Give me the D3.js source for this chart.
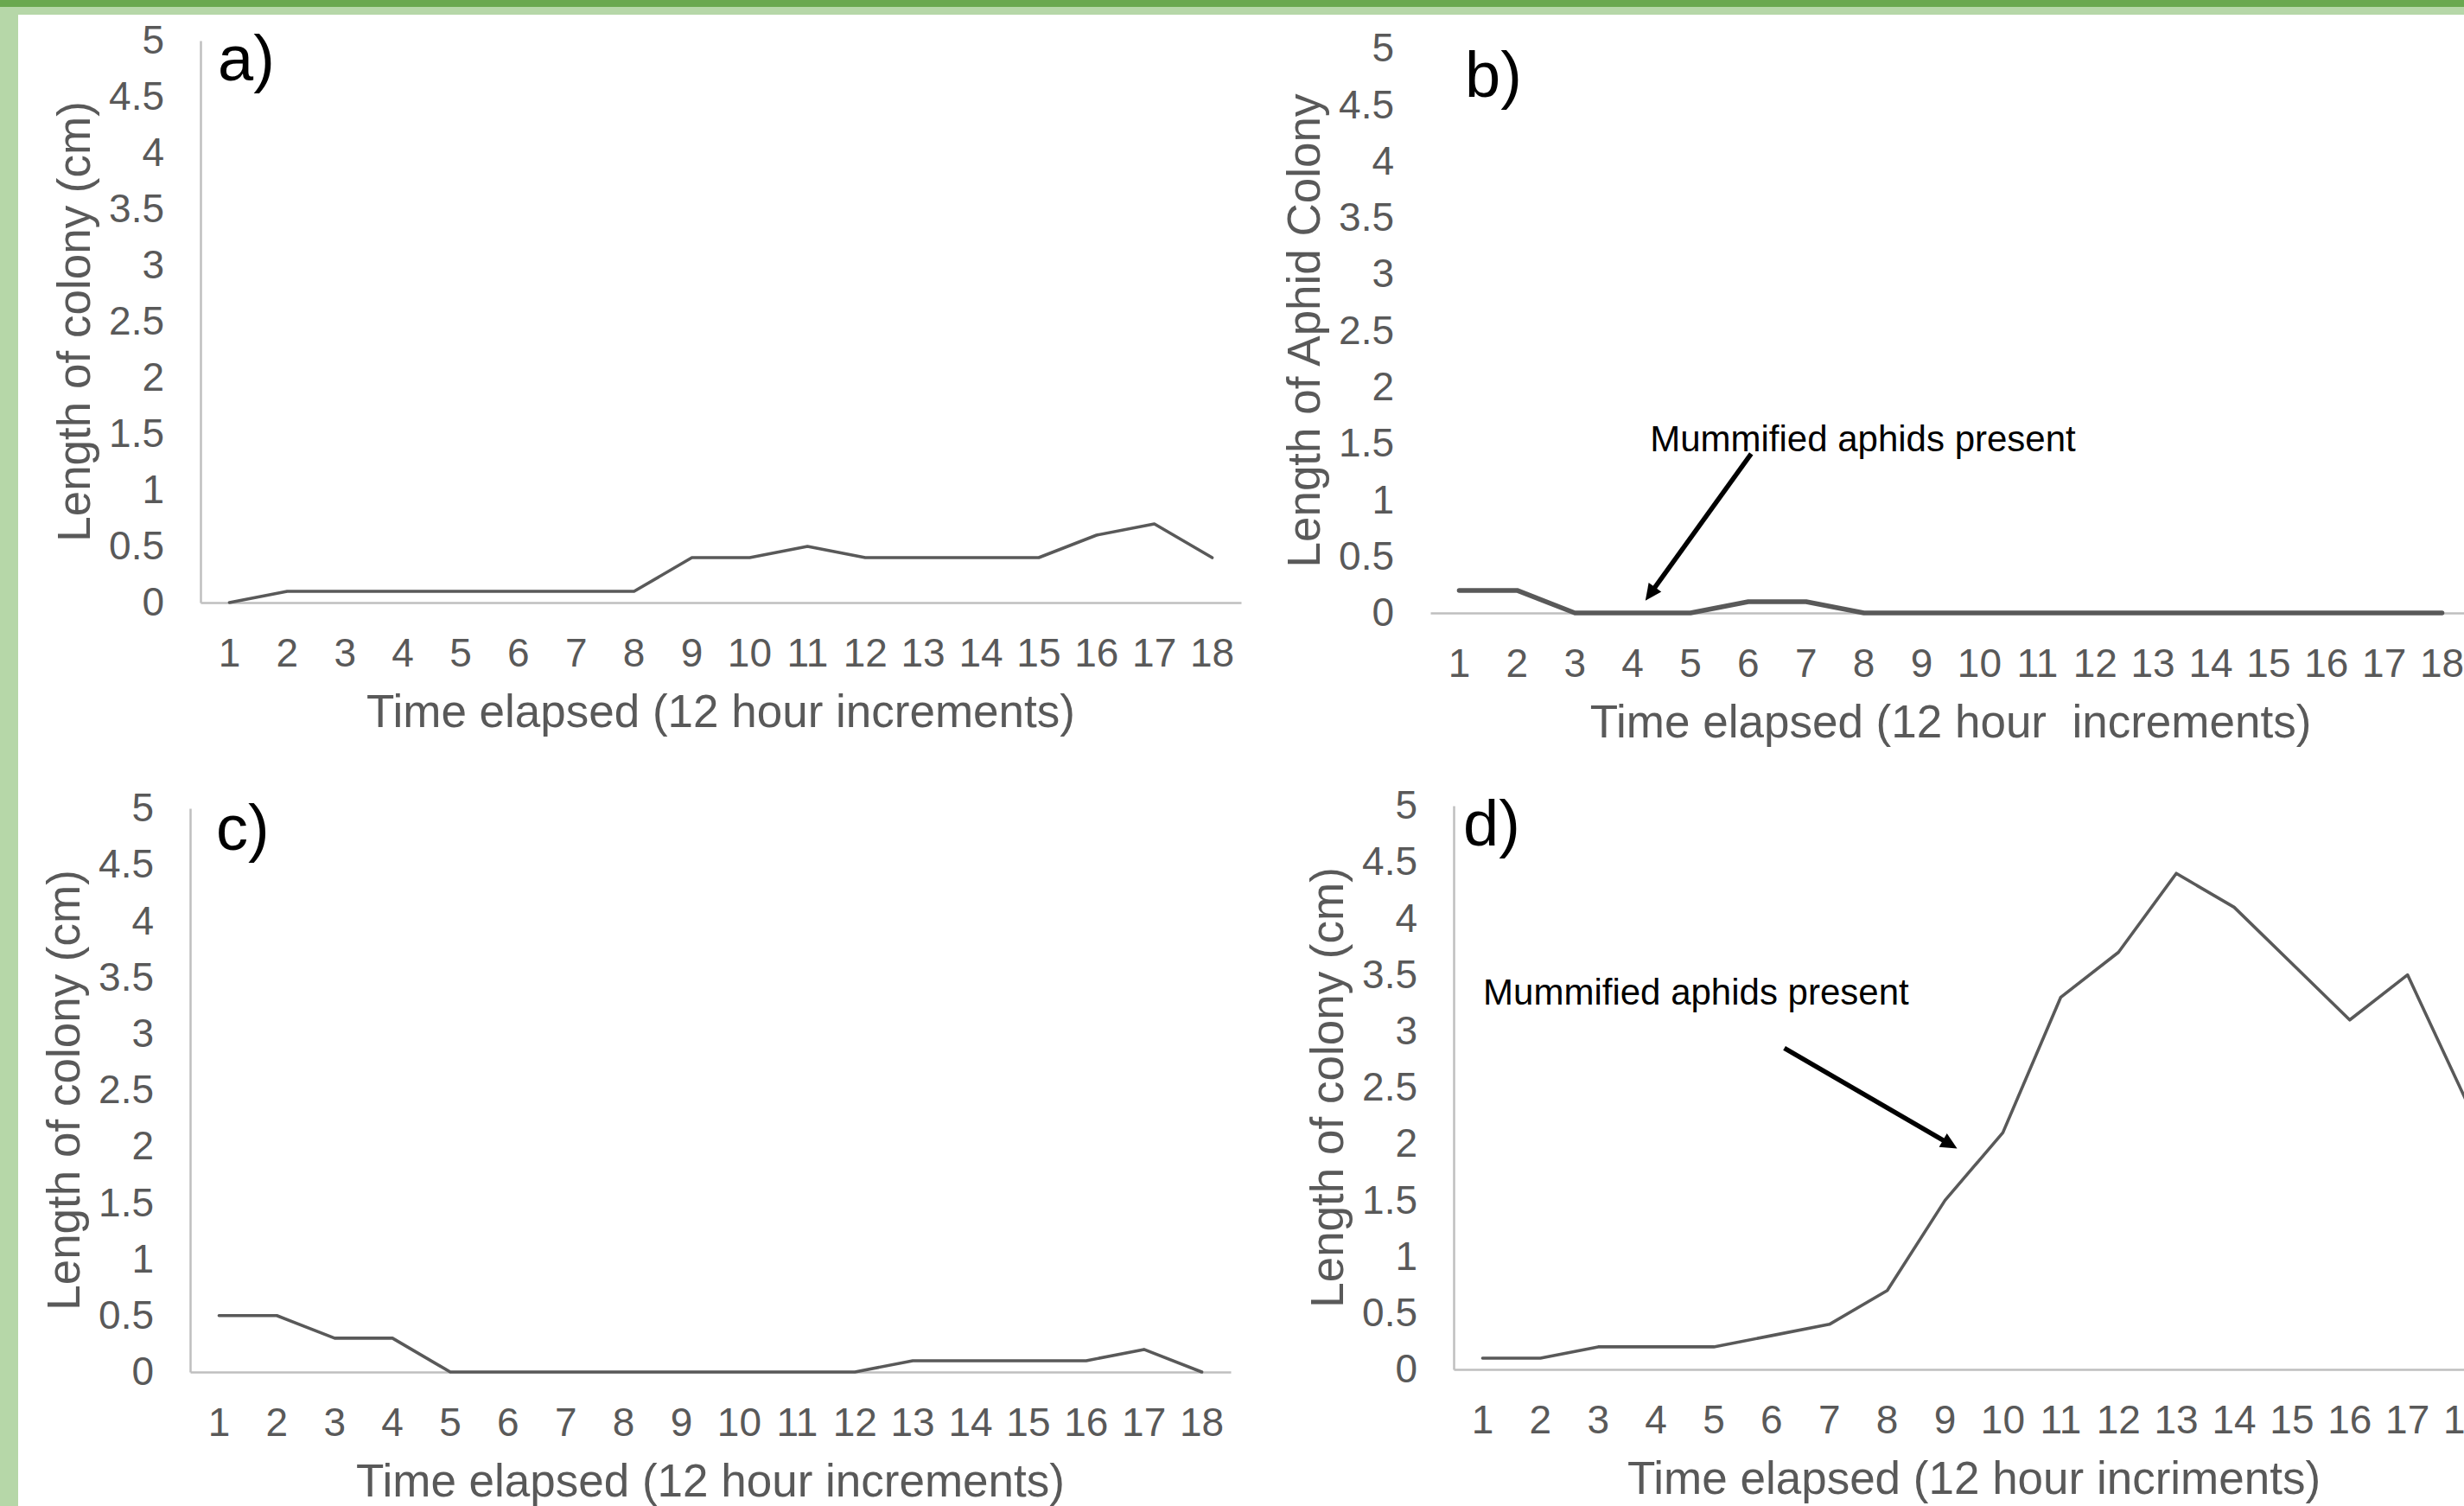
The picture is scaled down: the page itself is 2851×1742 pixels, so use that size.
<!DOCTYPE html>
<html><head><meta charset="utf-8">
<script src="https://cdn.jsdelivr.net/npm/d3@7"></script>
<style>
body{margin:0;background:#fff;overflow:hidden}
text{font-family:"Liberation Sans",Arial,Helvetica,sans-serif}
</style>
</head><body>
<svg id="chart" width="2851" height="1742"></svg>
<script>
// ---- data ----
const categories = ["1","2","3","4","5","6","7","8","9","10","11","12","13","14","15","16","17","18"];
const yTicks = [0, 0.5, 1, 1.5, 2, 2.5, 3, 3.5, 4, 4.5, 5];
const seriesA = [0, 0.1, 0.1, 0.1, 0.1, 0.1, 0.1, 0.1, 0.4, 0.4, 0.5, 0.4, 0.4, 0.4, 0.4, 0.6, 0.7, 0.4];
const seriesB = [0.2, 0.2, 0, 0, 0, 0.1, 0.1, 0, 0, 0, 0, 0, 0, 0, 0, 0, 0, 0];
const seriesC = [0.5, 0.5, 0.3, 0.3, 0, 0, 0, 0, 0, 0, 0, 0, 0.1, 0.1, 0.1, 0.1, 0.2, 0];
const seriesD = [0.1, 0.1, 0.2, 0.2, 0.2, 0.3, 0.4, 0.7, 1.5, 2.1, 3.3, 3.7, 4.4, 4.1, 3.6, 3.1, 3.5, 2.4];
const panelLabels = ["a)", "b)", "c)", "d)"];
const yTitles = ["Length of colony (cm)", "Length of Aphid Colony", "Length of colony (cm)", "Length of colony (cm)"];
const xTitles = ["Time elapsed (12 hour increments)", "Time elapsed (12 hour\u00A0 increments)", "Time elapsed (12 hour increments)", "Time elapsed (12 hour incriments)"];
const annotationText = "Mummified aphids present";

// ---- layout ----
const layout = [
  {series: seriesA, left: 232,  top: 47,  bottom: 697,  yLine: true,  lw: 3.6, lab: [252, 93]},
  {series: seriesB, left: 1655, top: 56,  bottom: 709,  yLine: false, lw: 5.5, lab: [1695, 112],
   note: {text: [4.3, 1.43], from: [6.05, 1.41], to: [4.22, 0.11]}},
  {series: seriesC, left: 220,  top: 935, bottom: 1587, yLine: true,  lw: 3.6, lab: [250, 983]},
  {series: seriesD, left: 1682, top: 932, bottom: 1584, yLine: true,  lw: 3.6, lab: [1693, 978],
   note: {text: [1.01, 3.24], from: [6.22, 2.85], to: [9.21, 1.96]}}
];
const plotW = 1204;
const grey = "#595959", axisGrey = "#bfbfbf";

const svg = d3.select("#chart");
svg.append("rect").attr("width", 2851).attr("height", 1742).attr("fill", "#fff");

layout.forEach((p, i) => {
  const g = svg.append("g");
  const x = d3.scaleBand().domain(categories).range([p.left, p.left + plotW]);
  const y = d3.scaleLinear().domain([0, 5]).range([p.bottom, p.top]);
  const xk = k => p.left + (k - 0.5) * x.step();

  // y axis
  const ya = g.append("g").attr("transform", `translate(${p.left},0)`)
    .call(d3.axisLeft(y).tickValues(yTicks).tickSize(0).tickPadding(42).tickFormat(d => String(d)));
  ya.selectAll("text").attr("fill", grey).style("font-size", "46px");
  ya.select(".domain").attr("stroke", p.yLine ? axisGrey : "none").attr("stroke-width", 2.5);

  // x axis
  const xa = g.append("g").attr("transform", `translate(0,${p.bottom})`)
    .call(d3.axisBottom(x).tickSize(0).tickSizeOuter(0).tickPadding(41));
  xa.selectAll("text").attr("fill", grey).style("font-size", "46px");
  xa.select(".domain").attr("stroke", axisGrey).attr("stroke-width", 2.5);

  // line
  const line = d3.line().x((d, j) => x(categories[j]) + x.bandwidth() / 2).y(d => y(d));
  g.append("path").datum(p.series).attr("d", line)
    .attr("fill", "none").attr("stroke", grey).attr("stroke-width", p.lw)
    .attr("stroke-linejoin", "round").attr("stroke-linecap", "round");

  // titles
  g.append("text").attr("transform", `translate(${p.left - 144},${(p.top + p.bottom) / 2}) rotate(-90)`)
    .attr("text-anchor", "middle").attr("dy", "0.3em").attr("fill", grey)
    .style("font-size", "53px").text(yTitles[i]);
  g.append("text").attr("x", p.left + plotW / 2).attr("y", p.bottom + 125)
    .attr("text-anchor", "middle").attr("dy", "0.35em").attr("fill", grey)
    .style("font-size", "53px").text(xTitles[i]);

  // panel label
  g.append("text").attr("x", p.lab[0]).attr("y", p.lab[1]).attr("fill", "#000")
    .style("font-size", "74px").text(panelLabels[i]);

  // annotation
  if (p.note) {
    const n = p.note;
    g.append("text").attr("x", xk(n.text[0])).attr("y", y(n.text[1])).attr("fill", "#000")
      .style("font-size", "42px").text(annotationText);
    const x1 = xk(n.from[0]), y1 = y(n.from[1]), x2 = xk(n.to[0]), y2 = y(n.to[1]);
    const L = Math.hypot(x2 - x1, y2 - y1), ux = (x2 - x1) / L, uy = (y2 - y1) / L;
    const hl = 19, hw = 9;
    const bx = x2 - ux * hl, by = y2 - uy * hl;
    g.append("line").attr("x1", x1).attr("y1", y1).attr("x2", bx + ux * 2).attr("y2", by + uy * 2)
      .attr("stroke", "#000").attr("stroke-width", 5.5);
    g.append("path").attr("d", `M${x2},${y2}L${bx - uy * hw},${by + ux * hw}L${bx + uy * hw},${by - ux * hw}Z`)
      .attr("fill", "#000");
  }
});

// frame bands
svg.append("rect").attr("x", 0).attr("y", 0).attr("width", 2851).attr("height", 17).attr("fill", "#b6d7a8");
svg.append("rect").attr("x", 0).attr("y", 0).attr("width", 2851).attr("height", 8).attr("fill", "#6aa84f");
svg.append("rect").attr("x", 0).attr("y", 8).attr("width", 21).attr("height", 1734).attr("fill", "#b6d7a8");
</script>
</body></html>
